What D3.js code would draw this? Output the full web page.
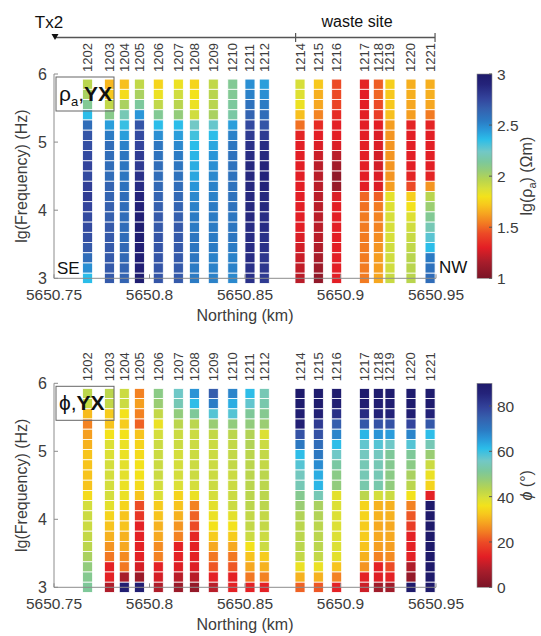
<!DOCTYPE html>
<html>
<head>
<meta charset="utf-8">
<script src="https://cdn.jsdelivr.net/npm/d3@7/dist/d3.min.js"></script>
<style>
  body { margin: 0; background: #fff; }
  text { font-family: "Liberation Sans", Arial, Helvetica, sans-serif; }
</style>
</head>
<body>
<script>
const svgWidth = 541
const svgHeight = 636

// stations along the profile
const stations = ["1202","1203","1204","1205","1206","1207","1208","1209","1210","1211","1212",
  "1214","1215","1216","1217","1218","1219","1220","1221"]
const northing = [5650.7676, 5650.7790, 5650.7868, 5650.7947, 5650.8046, 5650.8151, 5650.8235,
  5650.8334, 5650.8436, 5650.8526, 5650.8601, 5650.8788, 5650.8884, 5650.8980, 5650.9125,
  5650.9198, 5650.9259, 5650.9369, 5650.9469]

// lg(frequency), high to low
const lgFreq = [5.85, 5.7, 5.55, 5.4, 5.25, 5.1, 4.95, 4.8, 4.65, 4.5,
  4.35, 4.2, 4.05, 3.9, 3.75, 3.6, 3.45, 3.3, 3.15, 3.0]

// lg(rho_a) YX, one row per station, ordered like lgFreq
const rhoYX = [
  [1.96,2.0,2.12,2.36,2.6,2.7,2.72,2.74,2.76,2.74,2.78,2.8,2.76,2.74,2.74,2.72,2.68,2.6,2.48,2.36],
  [1.68,1.72,1.94,2.1,2.44,2.54,2.6,2.6,2.6,2.6,2.64,2.64,2.66,2.66,2.68,2.68,2.68,2.68,2.68,2.68],
  [1.7,1.78,2.0,2.2,2.34,2.44,2.52,2.56,2.56,2.56,2.58,2.6,2.6,2.6,2.6,2.6,2.62,2.62,2.64,2.64],
  [1.94,2.0,2.14,2.46,2.7,2.74,2.76,2.8,2.8,2.84,2.86,2.9,2.92,2.94,2.96,2.96,2.94,2.94,2.94,2.96],
  [1.76,1.82,1.94,2.12,2.36,2.48,2.56,2.58,2.6,2.6,2.62,2.64,2.66,2.68,2.68,2.7,2.7,2.7,2.7,2.7],
  [1.82,1.9,1.96,2.06,2.36,2.44,2.5,2.54,2.56,2.58,2.6,2.62,2.64,2.66,2.68,2.68,2.68,2.68,2.68,2.68],
  [1.76,1.8,1.82,1.9,2.24,2.32,2.36,2.38,2.4,2.42,2.46,2.5,2.52,2.54,2.54,2.56,2.56,2.56,2.54,2.54],
  [1.94,1.96,1.96,2.0,2.26,2.36,2.42,2.46,2.48,2.5,2.52,2.52,2.54,2.54,2.54,2.54,2.54,2.52,2.52,2.52],
  [2.12,2.12,2.14,2.16,2.44,2.52,2.56,2.58,2.58,2.58,2.58,2.58,2.58,2.56,2.56,2.56,2.54,2.52,2.52,2.5],
  [2.48,2.52,2.58,2.64,2.74,2.8,2.84,2.86,2.88,2.88,2.88,2.88,2.88,2.88,2.86,2.86,2.86,2.86,2.84,2.84],
  [2.44,2.48,2.54,2.6,2.7,2.8,2.86,2.88,2.9,2.9,2.9,2.88,2.88,2.86,2.86,2.84,2.84,2.82,2.82,2.8],
  [1.88,1.86,1.82,1.7,1.52,1.32,1.3,1.3,1.3,1.3,1.3,1.3,1.3,1.3,1.3,1.28,1.26,1.24,1.22,1.2],
  [1.72,1.66,1.64,1.56,1.34,1.3,1.28,1.24,1.2,1.2,1.2,1.2,1.2,1.2,1.2,1.2,1.18,1.16,1.12,1.08],
  [1.44,1.44,1.42,1.34,1.3,1.3,1.28,1.2,1.14,1.08,1.1,1.28,1.3,1.3,1.3,1.3,1.3,1.3,1.3,1.3],
  [1.32,1.3,1.3,1.3,1.3,1.3,1.3,1.3,1.3,1.3,1.3,1.5,1.52,1.54,1.54,1.54,1.54,1.54,1.54,1.54],
  [1.48,1.5,1.44,1.4,1.3,1.28,1.28,1.26,1.26,1.28,1.28,1.48,1.54,1.56,1.56,1.58,1.6,1.62,1.62,1.64],
  [1.74,1.72,1.72,1.7,1.62,1.6,1.6,1.6,1.6,1.6,1.62,1.84,1.86,1.88,1.88,1.88,1.9,1.9,1.9,1.92],
  [1.66,1.66,1.64,1.62,1.32,1.3,1.3,1.3,1.3,1.32,1.44,1.74,1.8,1.86,1.9,1.92,1.94,1.96,1.96,1.96],
  [1.66,1.66,1.64,1.54,1.32,1.3,1.3,1.3,1.3,1.32,1.6,1.96,2.04,2.12,2.2,2.28,2.36,2.54,2.58,2.6]
]

// phase YX in degrees
const phiYX = [
  [43,41,31,25,28,30,32,32,32,32,35,40,41,41,42,43,45,48,50,51],
  [43,42,33,32,36,39,39,40,40,40,40,38,34,32,30,27,24,14,14,8],
  [41,41,36,33,36,37,37,38,38,37,37,34,32,32,30,29,26,24,7,88],
  [25,28,25,22,32,34,35,36,36,35,32,20,17,14,14,14,14,12,5,88],
  [49,47,42,37,40,41,41,41,41,40,39,33,32,30,29,26,25,14,12,8],
  [56,54,48,43,41,41,40,40,40,39,34,32,30,27,25,14,14,13,9,5],
  [66,61,51,43,41,41,41,41,41,40,37,25,22,20,15,14,14,13,9,4],
  [75,69,58,47,42,41,41,41,41,41,40,38,37,36,33,29,24,21,14,9],
  [68,63,58,48,43,42,42,42,41,41,41,41,38,36,33,29,24,21,14,14],
  [61,57,51,48,44,44,43,43,43,43,43,43,42,42,41,36,32,29,24,14],
  [54,53,50,47,39,41,42,42,43,43,43,43,42,42,41,41,33,30,25,14],
  [90,89,88,87,77,70,61,58,55,54,50,47,44,43,43,43,42,37,30,22],
  [89,89,87,81,77,72,70,67,63,62,54,45,44,43,43,43,42,37,30,21],
  [89,88,83,75,68,61,56,52,49,48,38,39,39,39,39,39,38,32,25,14],
  [89,88,84,76,62,57,55,54,54,53,43,34,34,33,33,32,30,27,14,11],
  [89,88,86,77,66,58,55,54,54,53,40,30,30,29,29,28,25,14,13,6],
  [89,88,86,77,65,56,51,50,49,48,41,30,30,29,29,28,26,20,14,6],
  [89,89,88,79,68,58,51,49,45,43,36,25,21,18,14,14,14,8,4,90],
  [89,89,86,76,61,54,47,41,37,34,14,90,90,90,90,90,90,90,90,90]
]

const rhoTicks = [1, 1.5, 2, 2.5, 3]
const phiTicks = [0, 20, 40, 60, 80]
const xTicks = [5650.75, 5650.8, 5650.85, 5650.9, 5650.95]
const yTicks = [3, 4, 5, 6]

// colormap (dark red -> yellow -> teal -> navy)
const cmapPos = [0, 0.08, 0.15, 0.22, 0.27, 0.32, 0.36, 0.40, 0.44, 0.48, 0.53, 0.57, 0.62, 0.68, 0.73, 0.77, 0.83, 0.88, 0.95, 1]
const cmapCol = ["#7a1426","#a81d2b","#e31e25","#ec4a26","#f27b22","#f6a720","#f7c81d","#f3e21b","#d7df3a","#b9d54e",
  "#94cc7a","#7cc89c","#72c8c6","#2bbde9","#2a96d8","#2b7bc4","#3560ae","#33449c","#24237a","#1e1a6b"]
const cmap = d3.scaleLinear().domain(cmapPos).range(cmapCol).clamp(true)

const svg = d3.select("body").append("svg")
  .attr("width", svgWidth)
  .attr("height", svgHeight)

const x = d3.scaleLinear().domain([5650.75, 5650.95]).range([54, 436])
const axisColor = "#8c8c8c"
const textColor = "#3c3c3c"
const cellW = 10
const dF = 0.075

// Tx2 / waste site header
svg.append("line").attr("x1", x(5650.75) + 1).attr("x2", x(5650.95) - 1)
  .attr("y1", 37.5).attr("y2", 37.5).attr("stroke", "#555").attr("stroke-width", 1.3)
svg.append("path").attr("d", "M51.5,34 L58.5,34 L55,40 Z").attr("fill", "#111")
;[5650.8765, 5650.9495].forEach(v => {
  svg.append("line").attr("x1", x(v)).attr("x2", x(v)).attr("y1", 33).attr("y2", 42)
    .attr("stroke", "#555").attr("stroke-width", 1.2)
})
svg.append("text").attr("x", 49).attr("y", 28).attr("text-anchor", "middle")
  .attr("font-size", 17).attr("fill", "#111").text("Tx2")
svg.append("text").attr("x", 357).attr("y", 27).attr("text-anchor", "middle")
  .attr("font-size", 16).attr("fill", "#111").text("waste site")

function drawPanel(opts) {
  const y = d3.scaleLinear().domain([3, 6]).range([opts.y3, opts.y6])
  const color = v => cmap((v - opts.min) / (opts.max - opts.min))
  const g = svg.append("g")

  // cells
  opts.values.forEach((col, i) => {
    g.selectAll(null)
      .data(col)
      .enter()
      .append("rect")
      .attr("x", x(northing[i]) - cellW / 2)
      .attr("width", cellW)
      .attr("y", (d, j) => y(lgFreq[j] + dF))
      .attr("height", (d, j) => y(lgFreq[j] - dF) - y(lgFreq[j] + dF))
      .attr("fill", d => color(d))
      .attr("stroke", "#fff")
      .attr("stroke-width", 0.8)
  })

  // station labels
  stations.forEach((s, i) => {
    g.append("text")
      .attr("transform", `translate(${x(northing[i]) + 4.5}, ${opts.y6 - 2}) rotate(-90)`)
      .attr("font-size", 13).attr("fill", textColor).text(s)
  })

  // axes
  g.append("line").attr("x1", x(5650.75)).attr("x2", x(5650.75))
    .attr("y1", y(6)).attr("y2", y(3)).attr("stroke", axisColor)
  g.append("line").attr("x1", x(5650.75)).attr("x2", x(5650.95))
    .attr("y1", y(3)).attr("y2", y(3)).attr("stroke", axisColor)
  yTicks.forEach(t => {
    g.append("line").attr("x1", x(5650.75)).attr("x2", x(5650.75) + 4)
      .attr("y1", y(t)).attr("y2", y(t)).attr("stroke", axisColor)
    g.append("text").attr("x", x(5650.75) - 7).attr("y", y(t) + 6)
      .attr("text-anchor", "end").attr("font-size", 16).attr("fill", textColor).text(t)
  })
  xTicks.forEach(t => {
    g.append("line").attr("x1", x(t)).attr("x2", x(t))
      .attr("y1", y(3)).attr("y2", y(3) - 4).attr("stroke", axisColor)
    g.append("text").attr("x", x(t)).attr("y", y(3) + 22)
      .attr("text-anchor", "middle").attr("font-size", 15.5).attr("fill", textColor)
      .text(d3.format("")(t))
  })
  g.append("text").attr("x", 245).attr("y", y(3) + 43).attr("text-anchor", "middle")
    .attr("font-size", 16).attr("fill", textColor).text("Northing (km)")
  g.append("text")
    .attr("transform", `translate(27, ${(y(3) + y(6)) / 2}) rotate(-90)`)
    .attr("text-anchor", "middle").attr("font-size", 16).attr("fill", textColor)
    .text("lg(Frequency) (Hz)")

  // panel tag box
  g.append("rect").attr("x", 56).attr("y", opts.y6 + 3).attr("width", 58).attr("height", 34)
    .attr("fill", "none").attr("stroke", "#666").attr("stroke-width", 1)
  const tag = g.append("text").attr("x", 59).attr("y", opts.y6 + 27)
    .attr("font-size", 21).attr("fill", "#111")
  opts.tag(tag)

  // colorbar
  const cb = d3.scaleLinear().domain([opts.min, opts.max]).range([opts.y3, opts.y6])
  const defs = svg.append("defs")
  const grad = defs.append("linearGradient").attr("id", opts.id)
    .attr("x1", 0).attr("x2", 0).attr("y1", 1).attr("y2", 0)
  cmapPos.forEach((p, k) => {
    grad.append("stop").attr("offset", p).attr("stop-color", cmapCol[k])
  })
  g.append("rect").attr("x", 477).attr("y", opts.y6).attr("width", 15)
    .attr("height", opts.y3 - opts.y6).attr("fill", `url(#${opts.id})`)
    .attr("stroke", axisColor).attr("stroke-width", 0.6)
  opts.ticks.forEach(t => {
    g.append("line").attr("x1", 489).attr("x2", 492).attr("y1", cb(t)).attr("y2", cb(t))
      .attr("stroke", "#555")
    g.append("text").attr("x", 497).attr("y", cb(t) + 6)
      .attr("font-size", 15.5).attr("fill", textColor).text(t)
  })
  const lab = g.append("text")
    .attr("transform", `translate(532, ${(opts.y3 + opts.y6) / 2}) rotate(-90)`)
    .attr("text-anchor", "middle").attr("font-size", 16).attr("fill", textColor)
  opts.cbLabel(lab)
  return y
}

const y1 = drawPanel({
  id: "gradRho", y6: 74, y3: 278.3, values: rhoYX, min: 1, max: 3, ticks: rhoTicks,
  tag: t => {
    t.append("tspan").text("ρ")
    t.append("tspan").attr("font-size", 13).attr("dy", 5).text("a")
    t.append("tspan").attr("dy", -5).text(",")
    t.append("tspan").attr("font-weight", "bold").text("YX")
  },
  cbLabel: t => {
    t.append("tspan").text("lg(ρ")
    t.append("tspan").attr("font-size", 11).attr("dy", 4).text("a")
    t.append("tspan").attr("dy", -4).text(") (Ωm)")
  }
})

svg.append("text").attr("x", 57).attr("y", y1(3) - 4).attr("font-size", 17).attr("fill", "#111").text("SE")
svg.append("text").attr("x", 439).attr("y", y1(3) - 5).attr("font-size", 17).attr("fill", "#111").text("NW")

drawPanel({
  id: "gradPhi", y6: 383.3, y3: 587.3, values: phiYX, min: 0, max: 90, ticks: phiTicks,
  tag: t => {
    t.append("tspan").text("ϕ,")
    t.append("tspan").attr("font-weight", "bold").text("YX")
  },
  cbLabel: t => {
    t.append("tspan").attr("font-style", "italic").text("ϕ")
    t.append("tspan").text(" (°)")
  }
})
</script>
</body>
</html>
